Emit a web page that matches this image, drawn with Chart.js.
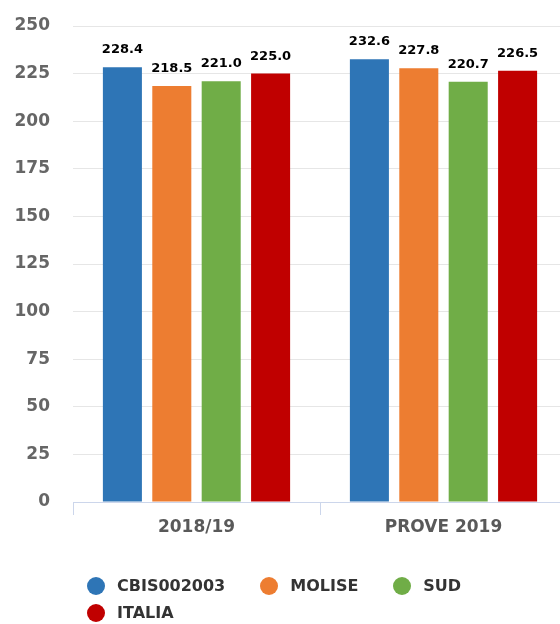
<!DOCTYPE html>
<html>
<head>
<meta charset="utf-8">
<script src="https://cdn.jsdelivr.net/npm/chart.js@4"></script>
<style>
  html, body { margin: 0; padding: 0; background: #fff; overflow: hidden; }
  #wrap { position: relative; width: 567px; height: 624px; }
  #legend {
    position: absolute; left: 87px; top: 572px; width: 420px;
    display: flex; flex-wrap: wrap;
    font-family: "DejaVu Sans", sans-serif; font-weight: bold; font-size: 16px; color: #333;
  }
  .item { display: flex; align-items: center; height: 27px; margin-right: 35px; }
  .dot { width: 18px; height: 18px; border-radius: 50%; margin-right: 12px; }
</style>
</head>
<body>
<div id="wrap">
  <canvas id="c"></canvas>
  <div id="legend"></div>
</div>
<script>
const categories = ["2018/19", "PROVE 2019"];
const seriesNames = ["CBIS002003", "MOLISE", "SUD", "ITALIA"];
const seriesColors = ["#2e75b6", "#ed7d31", "#70ad47", "#c00000"];
const cbis002003 = [228.4, 232.6];
const molise = [218.5, 227.8];
const sud = [221.0, 220.7];
const italia = [225.0, 226.5];
const seriesValues = [cbis002003, molise, sud, italia];
const yTicks = [0, 25, 50, 75, 100, 125, 150, 175, 200, 225, 250];

const FONT = '"DejaVu Sans", sans-serif';

const valueLabels = {
  id: 'valueLabels',
  afterDatasetsDraw(chart) {
    const ctx = chart.ctx;
    ctx.save();
    ctx.font = 'bold 13px ' + FONT;
    ctx.fillStyle = '#000';
    ctx.textAlign = 'center';
    ctx.textBaseline = 'alphabetic';
    chart.data.datasets.forEach((ds, i) => {
      const meta = chart.getDatasetMeta(i);
      meta.data.forEach((el, j) => {
        const v = ds.data[j];
        ctx.lineWidth = 2;
        ctx.strokeStyle = 'rgba(255,255,255,0.8)';
        ctx.strokeText(v.toFixed(1), el.x, el.y - 14);
        ctx.fillText(v.toFixed(1), el.x, el.y - 14);
      });
    });
    ctx.restore();
  }
};

new Chart(document.getElementById('c'), {
  type: 'bar',
  data: {
    labels: categories,
    datasets: seriesNames.map((n, i) => ({
      label: n,
      data: seriesValues[i],
      backgroundColor: seriesColors[i],
      borderWidth: 0,
      categoryPercentage: 0.80,
      barPercentage: 0.79
    }))
  },
  options: {
    responsive: true,
    maintainAspectRatio: false,
    animation: false,
    layout: { padding: { top: 26, left: 0, right: 0, bottom: 82 } },
    plugins: {
      legend: { display: false },
      tooltip: { enabled: false },
      title: { display: false }
    },
    scales: {
      x: {
        grid: { display: true, drawOnChartArea: false, drawTicks: true, tickLength: 13, color: '#ccd6eb', offset: true },
        border: { display: true, color: '#ccd6eb', width: 1 },
        ticks: { font: { family: FONT, size: 17, weight: 'bold' }, color: '#595959', padding: 2 },
        afterFit(scale) { scale.height = 40; scale.paddingLeft = 0; scale.paddingRight = 0; }
      },
      y: {
        min: 0, max: 250,
        afterBuildTicks(scale) { scale.ticks = yTicks.map(v => ({ value: v })); },
        grid: { color: '#e6e6e6', drawTicks: false },
        border: { display: false },
        ticks: { font: { family: FONT, size: 17, weight: 'bold' }, color: '#666666', padding: 23 },
        afterFit(scale) { scale.width = 73; scale.paddingTop = 0; scale.paddingBottom = 0; }
      }
    }
  },
  plugins: [valueLabels]
});

const legend = document.getElementById('legend');
seriesNames.forEach((n, i) => {
  const it = document.createElement('div');
  it.className = 'item';
  const d = document.createElement('span');
  d.className = 'dot';
  d.style.background = seriesColors[i];
  const t = document.createElement('span');
  t.textContent = n;
  it.appendChild(d); it.appendChild(t);
  legend.appendChild(it);
});
</script>
</body>
</html>
